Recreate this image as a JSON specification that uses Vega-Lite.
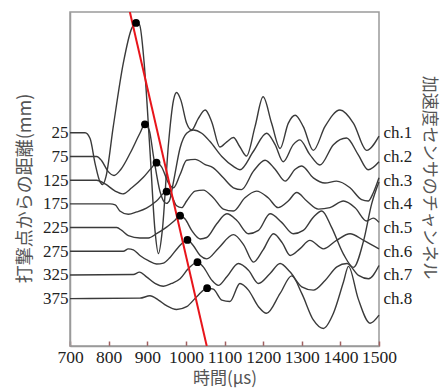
{
  "$schema": "https://vega.github.io/schema/vega-lite/v6.json",
  "width": 309,
  "height": 334,
  "autosize": "none",
  "padding": {"left": 70, "top": 12, "right": 64, "bottom": 42},
  "background": "white",
  "config": {
    "view": {"stroke": "#9a9a9a", "strokeWidth": 1.5},
    "axis": {"grid": false},
    "axisLeft": {"ticks": false, "domainColor": "#9a9a9a", "domainWidth": 1.5,
      "labelFont": "Liberation Serif", "labelFontSize": 17, "labelColor": "#222", "labelPadding": 2,
      "titleFont": "Noto Sans CJK JP", "titleFontSize": 18, "titleFontWeight": "normal", "titleColor": "#555"},
    "axisRight": {"ticks": false, "domain": false,
      "labelFont": "Liberation Serif", "labelFontSize": 17, "labelColor": "#222", "labelPadding": 4,
      "titleFont": "Noto Sans CJK JP", "titleFontSize": 17, "titleFontWeight": "normal", "titleColor": "#555"}
  },
  "datasets": {
    "traces": [
      {"c":"ch.1","t":700,"d":25},{"c":"ch.1","t":739,"d":25},{"c":"ch.1","t":752,"d":37},{"c":"ch.1","t":765,"d":90},{"c":"ch.1","t":778,"d":129},{"c":"ch.1","t":785,"d":134},{"c":"ch.1","t":793,"d":118},{"c":"ch.1","t":812,"d":12},{"c":"ch.1","t":838,"d":-122},{"c":"ch.1","t":860,"d":-196},{"c":"ch.1","t":871,"d":-207},{"c":"ch.1","t":880,"d":-203},{"c":"ch.1","t":892,"d":-122},{"c":"ch.1","t":907,"d":62},{"c":"ch.1","t":920,"d":231},{"c":"ch.1","t":929,"d":280},{"c":"ch.1","t":939,"d":231},{"c":"ch.1","t":955,"d":48},{"c":"ch.1","t":968,"d":-44},{"c":"ch.1","t":976,"d":-60},{"c":"ch.1","t":987,"d":-44},{"c":"ch.1","t":1002,"d":5},{"c":"ch.1","t":1015,"d":19},{"c":"ch.1","t":1032,"d":-5},{"c":"ch.1","t":1050,"d":-23},{"c":"ch.1","t":1067,"d":2},{"c":"ch.1","t":1088,"d":55},{"c":"ch.1","t":1106,"d":44},{"c":"ch.1","t":1123,"d":35},{"c":"ch.1","t":1140,"d":55},{"c":"ch.1","t":1157,"d":74},{"c":"ch.1","t":1179,"d":12},{"c":"ch.1","t":1200,"d":-51},{"c":"ch.1","t":1222,"d":5},{"c":"ch.1","t":1244,"d":58},{"c":"ch.1","t":1265,"d":5},{"c":"ch.1","t":1283,"d":-12},{"c":"ch.1","t":1304,"d":12},{"c":"ch.1","t":1330,"d":62},{"c":"ch.1","t":1360,"d":12},{"c":"ch.1","t":1399,"d":-23},{"c":"ch.1","t":1434,"d":5},{"c":"ch.1","t":1468,"d":62},{"c":"ch.1","t":1500,"d":32},
      {"c":"ch.2","t":700,"d":75},{"c":"ch.2","t":769,"d":75},{"c":"ch.2","t":782,"d":84},{"c":"ch.2","t":799,"d":107},{"c":"ch.2","t":814,"d":115},{"c":"ch.2","t":831,"d":103},{"c":"ch.2","t":857,"d":66},{"c":"ch.2","t":881,"d":26},{"c":"ch.2","t":894,"d":7},{"c":"ch.2","t":905,"d":19},{"c":"ch.2","t":917,"d":79},{"c":"ch.2","t":933,"d":149},{"c":"ch.2","t":949,"d":174},{"c":"ch.2","t":957,"d":169},{"c":"ch.2","t":968,"d":128},{"c":"ch.2","t":985,"d":57},{"c":"ch.2","t":1002,"d":26},{"c":"ch.2","t":1019,"d":19},{"c":"ch.2","t":1041,"d":26},{"c":"ch.2","t":1062,"d":43},{"c":"ch.2","t":1093,"d":75},{"c":"ch.2","t":1123,"d":96},{"c":"ch.2","t":1140,"d":103},{"c":"ch.2","t":1175,"d":64},{"c":"ch.2","t":1209,"d":26},{"c":"ch.2","t":1231,"d":50},{"c":"ch.2","t":1252,"d":86},{"c":"ch.2","t":1278,"d":50},{"c":"ch.2","t":1295,"d":40},{"c":"ch.2","t":1321,"d":71},{"c":"ch.2","t":1347,"d":93},{"c":"ch.2","t":1382,"d":50},{"c":"ch.2","t":1416,"d":36},{"c":"ch.2","t":1446,"d":71},{"c":"ch.2","t":1472,"d":103},{"c":"ch.2","t":1500,"d":86},
      {"c":"ch.3","t":700,"d":125},{"c":"ch.3","t":769,"d":125},{"c":"ch.3","t":791,"d":133},{"c":"ch.3","t":817,"d":148},{"c":"ch.3","t":836,"d":154},{"c":"ch.3","t":860,"d":141},{"c":"ch.3","t":890,"d":119},{"c":"ch.3","t":911,"d":99},{"c":"ch.3","t":924,"d":88},{"c":"ch.3","t":937,"d":97},{"c":"ch.3","t":955,"d":131},{"c":"ch.3","t":968,"d":141},{"c":"ch.3","t":985,"d":113},{"c":"ch.3","t":1002,"d":83},{"c":"ch.3","t":1024,"d":81},{"c":"ch.3","t":1050,"d":92},{"c":"ch.3","t":1071,"d":99},{"c":"ch.3","t":1097,"d":120},{"c":"ch.3","t":1123,"d":141},{"c":"ch.3","t":1144,"d":145},{"c":"ch.3","t":1175,"d":106},{"c":"ch.3","t":1205,"d":83},{"c":"ch.3","t":1231,"d":102},{"c":"ch.3","t":1257,"d":127},{"c":"ch.3","t":1283,"d":102},{"c":"ch.3","t":1300,"d":95},{"c":"ch.3","t":1330,"d":120},{"c":"ch.3","t":1360,"d":131},{"c":"ch.3","t":1390,"d":127},{"c":"ch.3","t":1425,"d":141},{"c":"ch.3","t":1455,"d":166},{"c":"ch.3","t":1472,"d":169},{"c":"ch.3","t":1485,"d":152},{"c":"ch.3","t":1500,"d":120},
      {"c":"ch.4","t":700,"d":175},{"c":"ch.4","t":804,"d":175},{"c":"ch.4","t":817,"d":177},{"c":"ch.4","t":829,"d":190},{"c":"ch.4","t":851,"d":197},{"c":"ch.4","t":873,"d":192},{"c":"ch.4","t":898,"d":184},{"c":"ch.4","t":924,"d":169},{"c":"ch.4","t":950,"d":149},{"c":"ch.4","t":963,"d":158},{"c":"ch.4","t":976,"d":179},{"c":"ch.4","t":989,"d":183},{"c":"ch.4","t":1002,"d":169},{"c":"ch.4","t":1024,"d":148},{"c":"ch.4","t":1045,"d":146},{"c":"ch.4","t":1071,"d":162},{"c":"ch.4","t":1097,"d":186},{"c":"ch.4","t":1123,"d":190},{"c":"ch.4","t":1153,"d":162},{"c":"ch.4","t":1183,"d":148},{"c":"ch.4","t":1213,"d":162},{"c":"ch.4","t":1239,"d":183},{"c":"ch.4","t":1265,"d":169},{"c":"ch.4","t":1287,"d":151},{"c":"ch.4","t":1313,"d":169},{"c":"ch.4","t":1343,"d":186},{"c":"ch.4","t":1373,"d":183},{"c":"ch.4","t":1408,"d":169},{"c":"ch.4","t":1438,"d":183},{"c":"ch.4","t":1468,"d":211},{"c":"ch.4","t":1485,"d":205},{"c":"ch.4","t":1500,"d":214},
      {"c":"ch.5","t":700,"d":225},{"c":"ch.5","t":821,"d":225},{"c":"ch.5","t":834,"d":231},{"c":"ch.5","t":851,"d":242},{"c":"ch.5","t":881,"d":247},{"c":"ch.5","t":903,"d":247},{"c":"ch.5","t":924,"d":238},{"c":"ch.5","t":950,"d":224},{"c":"ch.5","t":971,"d":210},{"c":"ch.5","t":985,"d":200},{"c":"ch.5","t":998,"d":207},{"c":"ch.5","t":1015,"d":231},{"c":"ch.5","t":1037,"d":249},{"c":"ch.5","t":1054,"d":246},{"c":"ch.5","t":1080,"d":217},{"c":"ch.5","t":1106,"d":196},{"c":"ch.5","t":1132,"d":210},{"c":"ch.5","t":1162,"d":238},{"c":"ch.5","t":1188,"d":231},{"c":"ch.5","t":1218,"d":196},{"c":"ch.5","t":1248,"d":214},{"c":"ch.5","t":1278,"d":238},{"c":"ch.5","t":1304,"d":231},{"c":"ch.5","t":1330,"d":203},{"c":"ch.5","t":1352,"d":190},{"c":"ch.5","t":1377,"d":224},{"c":"ch.5","t":1408,"d":281},{"c":"ch.5","t":1434,"d":309},{"c":"ch.5","t":1460,"d":253},{"c":"ch.5","t":1481,"d":175},{"c":"ch.5","t":1500,"d":129},
      {"c":"ch.6","t":700,"d":275},{"c":"ch.6","t":838,"d":275},{"c":"ch.6","t":851,"d":270},{"c":"ch.6","t":864,"d":272},{"c":"ch.6","t":881,"d":284},{"c":"ch.6","t":903,"d":295},{"c":"ch.6","t":924,"d":302},{"c":"ch.6","t":942,"d":300},{"c":"ch.6","t":959,"d":288},{"c":"ch.6","t":980,"d":267},{"c":"ch.6","t":1004,"d":251},{"c":"ch.6","t":1019,"d":263},{"c":"ch.6","t":1037,"d":284},{"c":"ch.6","t":1054,"d":291},{"c":"ch.6","t":1085,"d":268},{"c":"ch.6","t":1123,"d":240},{"c":"ch.6","t":1150,"d":262},{"c":"ch.6","t":1175,"d":298},{"c":"ch.6","t":1200,"d":272},{"c":"ch.6","t":1227,"d":238},{"c":"ch.6","t":1250,"d":258},{"c":"ch.6","t":1270,"d":284},{"c":"ch.6","t":1295,"d":270},{"c":"ch.6","t":1321,"d":252},{"c":"ch.6","t":1356,"d":270},{"c":"ch.6","t":1390,"d":252},{"c":"ch.6","t":1425,"d":238},{"c":"ch.6","t":1460,"d":252},{"c":"ch.6","t":1500,"d":270},
      {"c":"ch.7","t":700,"d":325},{"c":"ch.7","t":864,"d":324},{"c":"ch.7","t":880,"d":319},{"c":"ch.7","t":898,"d":329},{"c":"ch.7","t":920,"d":343},{"c":"ch.7","t":942,"d":349},{"c":"ch.7","t":963,"d":343},{"c":"ch.7","t":985,"d":333},{"c":"ch.7","t":1006,"d":312},{"c":"ch.7","t":1030,"d":298},{"c":"ch.7","t":1045,"d":308},{"c":"ch.7","t":1067,"d":336},{"c":"ch.7","t":1084,"d":347},{"c":"ch.7","t":1106,"d":329},{"c":"ch.7","t":1136,"d":301},{"c":"ch.7","t":1162,"d":315},{"c":"ch.7","t":1188,"d":343},{"c":"ch.7","t":1218,"d":322},{"c":"ch.7","t":1244,"d":301},{"c":"ch.7","t":1270,"d":319},{"c":"ch.7","t":1300,"d":350},{"c":"ch.7","t":1330,"d":357},{"c":"ch.7","t":1361,"d":336},{"c":"ch.7","t":1391,"d":308},{"c":"ch.7","t":1417,"d":301},{"c":"ch.7","t":1447,"d":326},{"c":"ch.7","t":1473,"d":333},{"c":"ch.7","t":1500,"d":305},
      {"c":"ch.8","t":700,"d":375},{"c":"ch.8","t":881,"d":374},{"c":"ch.8","t":907,"d":369},{"c":"ch.8","t":929,"d":378},{"c":"ch.8","t":950,"d":390},{"c":"ch.8","t":976,"d":398},{"c":"ch.8","t":1002,"d":392},{"c":"ch.8","t":1028,"d":371},{"c":"ch.8","t":1055,"d":353},{"c":"ch.8","t":1071,"d":355},{"c":"ch.8","t":1093,"d":378},{"c":"ch.8","t":1114,"d":381},{"c":"ch.8","t":1140,"d":343},{"c":"ch.8","t":1162,"d":357},{"c":"ch.8","t":1188,"d":392},{"c":"ch.8","t":1209,"d":406},{"c":"ch.8","t":1244,"d":364},{"c":"ch.8","t":1274,"d":327},{"c":"ch.8","t":1300,"d":364},{"c":"ch.8","t":1330,"d":420},{"c":"ch.8","t":1356,"d":438},{"c":"ch.8","t":1382,"d":406},{"c":"ch.8","t":1408,"d":340},{"c":"ch.8","t":1421,"d":307},{"c":"ch.8","t":1446,"d":375},{"c":"ch.8","t":1477,"d":427},{"c":"ch.8","t":1500,"d":410}
    ],
    "dots": [
      {"c":"ch.1","t":871,"d":-207},{"c":"ch.2","t":894,"d":7},{"c":"ch.3","t":924,"d":88},{"c":"ch.4","t":950,"d":149},
      {"c":"ch.5","t":985,"d":200},{"c":"ch.6","t":1004,"d":251},{"c":"ch.7","t":1030,"d":298},{"c":"ch.8","t":1055,"d":353}
    ],
    "fit": [{"t":855,"d":-230},{"t":1054,"d":475}]
  },
  "encoding": {
    "x": {"field": "t", "type": "quantitative",
      "scale": {"domain": [700, 1500], "nice": false, "zero": false},
      "axis": {"values": [700,800,900,1000,1100,1200,1300,1400,1500], "format": "d",
        "labelFont": "Liberation Serif", "labelFontSize": 17.5, "labelColor": "#222",
        "labelOverlap": false, "labelFlush": false, "labelBound": false,
        "tickSize": -5, "tickColor": "#a06060", "tickWidth": 1.5,
        "domainColor": "#9a9a9a", "domainWidth": 1.5, "labelPadding": 7,
        "title": "時間(µs)", "titleFont": "Noto Sans CJK JP", "titleFontSize": 17, "titleFontWeight": "normal",
        "titleColor": "#555", "titleY": 32, "titleBaseline": "middle"}}
  },
  "layer": [
    {
      "data": {"name": "traces"},
      "mark": {"type": "line", "interpolate": "monotone", "color": "#3a3a3a", "strokeWidth": 1.4},
      "encoding": {
        "y": {"field": "d", "type": "quantitative",
          "scale": {"domain": [-230, 475], "reverse": true, "nice": false, "zero": false},
          "axis": {"orient": "left", "values": [25,75,125,175,225,275,325,375],
            "title": "打撃点からの距離(mm)",
            "titleAngle": -90, "titleX": -45, "titleY": 176, "titleAlign": "center", "titleBaseline": "middle"}},
        "detail": {"field": "c"}
      }
    },
    {
      "data": {"name": "fit"},
      "mark": {"type": "line", "color": "#e8151b", "strokeWidth": 2, "clip": true},
      "encoding": {
        "y": {"field": "d", "type": "quantitative", "axis": null}
      }
    },
    {
      "data": {"name": "dots"},
      "mark": {"type": "point", "filled": true, "color": "black", "size": 60, "opacity": 1},
      "encoding": {
        "y": {"field": "d", "type": "quantitative",
          "axis": {"orient": "right", "values": [25,75,125,175,225,275,325,375],
            "labelExpr": "'ch.' + ((datum.value + 25) / 50)",
            "title": "加速度センサのチャンネル",
            "titleAngle": 90, "titleX": 49, "titleY": 165, "titleAlign": "center", "titleBaseline": "middle"}}
      }
    },
    {
      "data": {"values": [{"label": "1765 m/s"}]},
      "mark": {"type": "text", "font": "Liberation Serif", "fontSize": 21, "color": "#e8151b", "align": "center", "baseline": "middle"},
      "encoding": {
        "x": {"datum": 1039, "type": "quantitative",
          "axis": {"values": [700,800,900,1000,1100,1200,1300,1400,1500], "format": "d",
            "labelFont": "Liberation Serif", "labelFontSize": 17.5, "labelColor": "#222",
            "labelOverlap": false, "labelFlush": false, "labelBound": false,
            "tickSize": -5, "tickColor": "#a06060", "tickWidth": 1.5,
            "domainColor": "#9a9a9a", "domainWidth": 1.5, "labelPadding": 7,
            "title": "時間(µs)", "titleFont": "Noto Sans CJK JP", "titleFontSize": 17, "titleFontWeight": "normal",
            "titleColor": "#555", "titleY": 32, "titleBaseline": "middle"}},
        "y": {"datum": -129, "type": "quantitative", "axis": null},
        "text": {"field": "label"}
      }
    }
  ],
  "resolve": {"axis": {"y": "independent"}}
}
